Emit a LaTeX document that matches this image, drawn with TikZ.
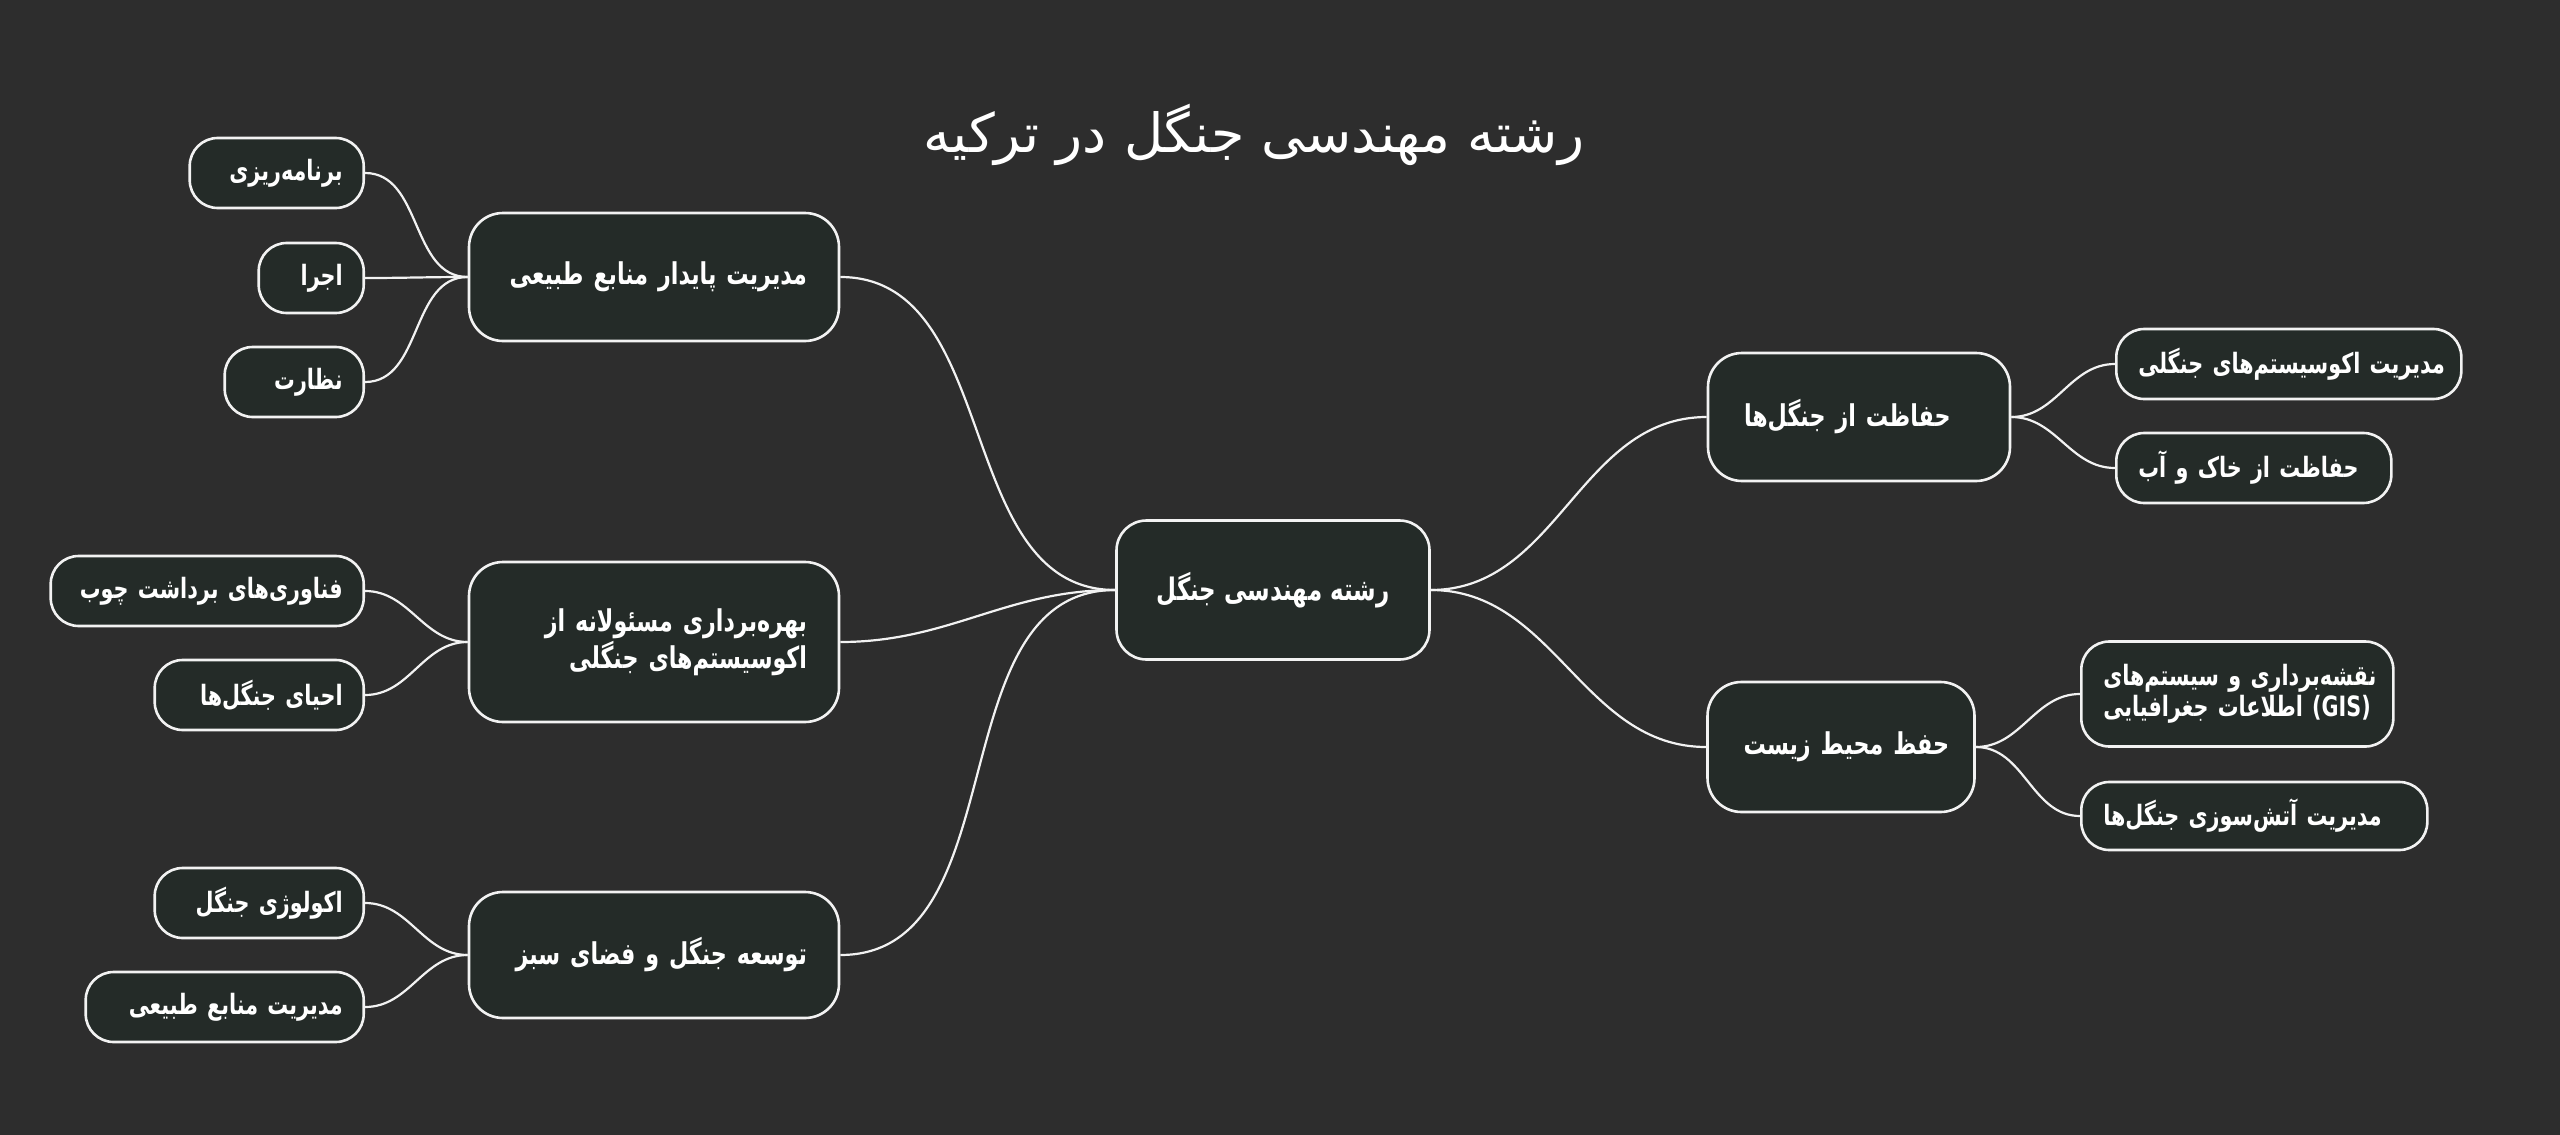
\documentclass[tikz,border=0pt]{standalone}
\usepackage{fontspec}
\usepackage{tikz}
\usetikzlibrary{shapes, arrows}
\newfontfamily\farsi[Script=Arabic, FakeStretch=0.74]{DejaVu Sans}
\newfontfamily\farsititle[Script=Arabic]{DejaVu Sans}
\TeXXeTstate=1
\newcommand{\rtltext}[1]{\mbox{\beginR #1\endR}}
\definecolor{bgcol}{HTML}{2D2D2D}
\definecolor{boxcol}{HTML}{242B28}
\definecolor{linecol}{HTML}{F2F2F2}

\begin{document}
\begin{tikzpicture}[x=0.5pt, y=-0.5pt,
		box/.style={rectangle, draw=linecol, fill=boxcol, line width=1.3pt, text=white, inner ysep=0pt},
		leaf/.style={box, rounded corners=14pt, minimum height=35pt, inner xsep=10.5pt, font=\farsi\bfseries\fontsize{14}{15.5}\selectfont},
		lleaf/.style={leaf, anchor=east, align=right},
		rleaf/.style={leaf, anchor=west, align=left, inner xsep=11pt},
		topic/.style={box, rounded corners=17pt, minimum height=64pt, font=\farsi\bfseries\fontsize{15}{18.5}\selectfont},
		ltopic/.style={topic, align=right, inner xsep=16pt, text width=153pt},
		rtopic/.style={topic, align=left, inner xsep=18pt},
		link/.style={draw=linecol, line width=1.1pt}]
		\fill[bgcol] (0,0) rectangle (2560,1135);
		\node at (1254,135) [text=white, font=\farsititle\fontsize{27}{30}\selectfont] (title) {\rtltext{رشته مهندسی جنگل در ترکیه}};
		\node at (1273,590) [box, rounded corners=15pt, minimum width=156.5pt, minimum height=69.5pt, font=\farsi\bfseries\fontsize{15.5}{17}\selectfont] (R) {\rtltext{رشته مهندسی جنگل}};
		\node at (654,277) [ltopic] (A) {\rtltext{مدیریت پایدار منابع طبیعی}};
		\node at (654,642) [ltopic, minimum height=80pt] (B) {\rtltext{بهره‌برداری مسئولانه از}\\\rtltext{اکوسیستم‌های جنگلی}};
		\node at (654,955) [ltopic, minimum height=63pt] (C) {\rtltext{توسعه جنگل و فضای سبز}};
		\node at (1859,417) [rtopic, text width=115pt] (D) {\rtltext{حفاظت از جنگل‌ها}};
		\node at (1841,747) [rtopic, text width=97.5pt, minimum height=65pt] (E) {\rtltext{حفظ محیط زیست}};
		\node at (365,173) [lleaf, text width=66pt] (A1) {\rtltext{برنامه‌ریزی}};
		\node at (365,278) [lleaf, text width=31.5pt] (A2) {\rtltext{اجرا}};
		\node at (365,382) [lleaf, text width=48.5pt] (A3) {\rtltext{نظارت}};
		\node at (365,591) [lleaf, text width=135.5pt] (B1) {\rtltext{فناوری‌های برداشت چوب}};
		\node at (365,695) [lleaf, text width=83.5pt] (B2) {\rtltext{احیای جنگل‌ها}};
		\node at (365,903) [lleaf, text width=83.5pt] (C1) {\rtltext{اکولوژی جنگل}};
		\node at (365,1007) [lleaf, text width=118pt] (C2) {\rtltext{مدیریت منابع طبیعی}};
		\node at (2115,364) [rleaf, text width=150.5pt] (D1) {\rtltext{مدیریت اکوسیستم‌های جنگلی}};
		\node at (2115,468) [rleaf, text width=115.5pt] (D2) {\rtltext{حفاظت از خاک و آب}};
		\node at (2080,694) [rleaf, text width=134pt, minimum height=52.5pt] (E1) {\rtltext{نقشه‌برداری و سیستم‌های}\\\mbox{\rtltext{اطلاعات جغرافیایی} (GIS)}};
		\node at (2080,816) [rleaf, text width=151pt, minimum height=34pt] (E2) {\rtltext{مدیریت آتش‌سوزی جنگل‌ها}};
		\draw[link] (R.west) to[out=180, in=0] (A.east);
		\draw[link] (R.west) to[out=180, in=0] (B.east);
		\draw[link] (R.west) to[out=180, in=0] (C.east);
		\draw[link] (R.east) to[out=0, in=180] (D.west);
		\draw[link] (R.east) to[out=0, in=180] (E.west);
		\draw[link] (A.west) to[out=180, in=0] (A1.east);
		\draw[link] (A.west) to[out=180, in=0] (A2.east);
		\draw[link] (A.west) to[out=180, in=0] (A3.east);
		\draw[link] (B.west) to[out=180, in=0] (B1.east);
		\draw[link] (B.west) to[out=180, in=0] (B2.east);
		\draw[link] (C.west) to[out=180, in=0] (C1.east);
		\draw[link] (C.west) to[out=180, in=0] (C2.east);
		\draw[link] (D.east) to[out=0, in=180] (D1.west);
		\draw[link] (D.east) to[out=0, in=180] (D2.west);
		\draw[link] (E.east) to[out=0, in=180] (E1.west);
		\draw[link] (E.east) to[out=0, in=180] (E2.west);
\end{tikzpicture}
\end{document}
